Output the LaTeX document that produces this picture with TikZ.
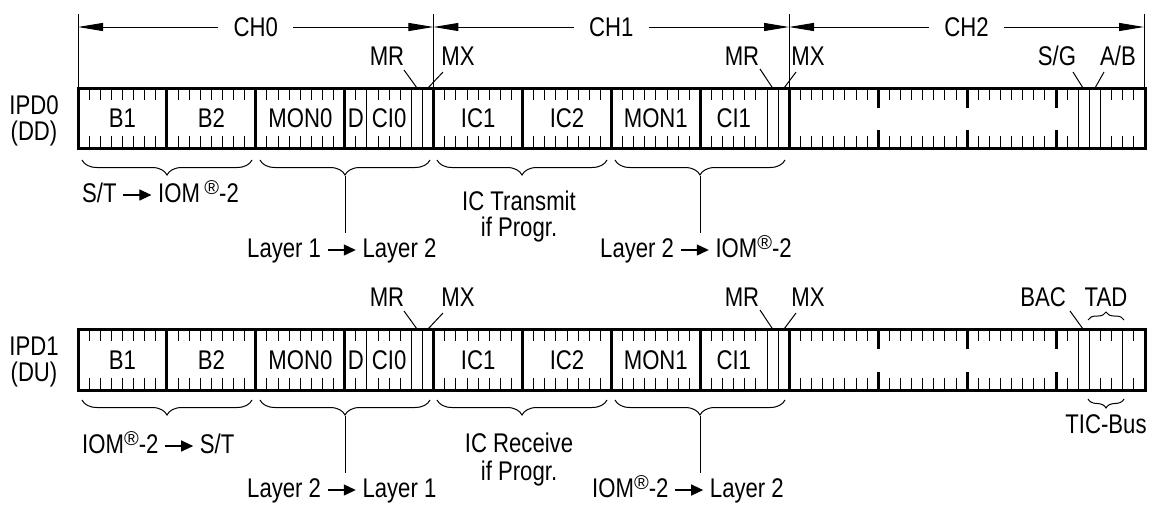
\documentclass[tikz,border=0pt]{standalone}
\usepackage{fontspec}
\setmainfont{Liberation Sans}[FakeStretch=0.82]
\newfontfamily\regfont{Liberation Sans}
\usetikzlibrary{arrows.meta,decorations.pathreplacing}
\newcommand\labfont{\fontsize{27}{29}\selectfont}
\newcommand\regm{\raisebox{7.5pt}{\regfont\fontsize{20}{20}\selectfont ®}}
\newcommand\tarr{\tikz[baseline=0pt]\draw[line width=1.2pt,-{Triangle[length=12pt,width=11pt]}] (0pt,7pt) -- (28pt,7pt);}
\def\bw{11.1146}
\def\xo{78}
\newcommand\ipdframe[3]{%
  \foreach \b in {1,...,95} {
    \draw[tk] ({\xo+\b*\bw},#1) -- ++(0,12);
    \draw[tk] ({\xo+\b*\bw},#2) -- ++(0,-12);
  }
  \foreach \b in {#3} \draw[tk] ({\xo+\b*\bw},#1) -- ({\xo+\b*\bw},#2);
  \foreach \b in {72,80,88} {
    \draw[thk] ({\xo+\b*\bw},#1) -- ++(0,20);
    \draw[thk] ({\xo+\b*\bw},#2) -- ++(0,-18);
  }
  \foreach \b in {8,16,24,32,40,48,56,64} \draw[thk] ({\xo+\b*\bw},#1) -- ({\xo+\b*\bw},#2);
  \draw[thk] (\xo,#1) rectangle (1145,#2);
}
\begin{document}
\begin{tikzpicture}[x=1pt,y=-1pt,
  every node/.style={inner sep=0pt,font=\labfont},
  tk/.style={line width=1pt},
  thk/.style={line width=3pt},
  ptr/.style={line width=1pt},
  dim/.style={line width=1pt,-{Triangle[length=25pt,width=8pt]}},
  brc/.style={line width=1pt,decorate,decoration={brace,amplitude=15pt,mirror}},
  sbrc/.style={line width=1pt,decorate,decoration={brace,amplitude=8pt}},
  sbrcm/.style={line width=1pt,decorate,decoration={brace,amplitude=9pt,mirror}},
  chl/.style={inner xsep=15pt,fill=white}]
\useasboundingbox[fill=white] (0,0) rectangle (1151,504);

% ---------- channel dimensions ----------
\coordinate (e0t) at (78,14);    \coordinate (e0b) at (78,88);
\coordinate (e1t) at (433.4,14); \coordinate (e1b) at (433.4,88);
\coordinate (e2t) at (789,14);   \coordinate (e2b) at (789,88);
\coordinate (e3t) at (1144,14);  \coordinate (e3b) at (1144,88);
\foreach \i in {0,1,2,3} \draw[tk] (e\i t) -- (e\i b);
\coordinate (a0) at (78,27);   \coordinate (a1) at (433.4,27);
\coordinate (a2) at (789,27);  \coordinate (a3) at (1144,27);
\node[chl] (ch0) at (255.7,27) {CH0};
\node[chl] (ch1) at (611.2,27) {CH1};
\node[chl] (ch2) at (966.5,27) {CH2};
\draw[dim] (ch0.west) -- (a0);  \draw[dim] (ch0.east) -- (a1);
\draw[dim] (ch1.west) -- (a1);  \draw[dim] (ch1.east) -- (a2);
\draw[dim] (ch2.west) -- (a2);  \draw[dim] (ch2.east) -- (a3);

% ---------- frames ----------
\ipdframe{88}{148}{26,30,31,62,63,90,91,92}
\ipdframe{329}{390}{26,30,31,62,63,90,91,94}

% ---------- row labels ----------
\node[anchor=base] (ipd0) at (34,114) {IPD0};
\node[anchor=base] (dd) at (34,140) {(DD)};
\node[anchor=base] (ipd1) at (34,355.5) {IPD1};
\node[anchor=base] (du) at (34,381.5) {(DU)};

\foreach \y/\r in {127.7/a,369/b} {
  \node[anchor=base] (b1\r) at (122.5,\y) {B1};
  \node[anchor=base] (b2\r) at (211.5,\y) {B2};
  \node[anchor=base] (mon0\r) at (300.4,\y) {MON0};
  \node[anchor=base] (d\r) at (355.9,\y) {D};
  \node[anchor=base] (ci0\r) at (389.2,\y) {CI0};
  \node[anchor=base] (ic1\r) at (478.1,\y) {IC1};
  \node[anchor=base] (ic2\r) at (567,\y) {IC2};
  \node[anchor=base] (mon1\r) at (655.8,\y) {MON1};
  \node[anchor=base] (ci1\r) at (733.8,\y) {CI1};
}

% ---------- MR / MX pointers ----------
\foreach \yb/\yo/\r in {65/0/a,306.5/241/b} {
  \node[anchor=base] (mr0\r) at (387,\yb) {MR};
  \node[anchor=base] (mx0\r) at (458,\yb) {MX};
  \node[anchor=base] (mr1\r) at (742,\yb) {MR};
  \node[anchor=base] (mx1\r) at (808,\yb) {MX};
  \coordinate (pmr0s\r) at (404,70+\yo);  \coordinate (pmr0e\r) at (417,88+\yo);
  \coordinate (pmx0s\r) at (443,72+\yo);  \coordinate (pmx0e\r) at (428,88+\yo);
  \coordinate (pmr1s\r) at (760,69+\yo);  \coordinate (pmr1e\r) at (772.6,88+\yo);
  \coordinate (pmx1s\r) at (796,72+\yo);  \coordinate (pmx1e\r) at (784,88+\yo);
  \draw[ptr] (pmr0s\r) -- (pmr0e\r);
  \draw[ptr] (pmx0s\r) -- (pmx0e\r);
  \draw[ptr] (pmr1s\r) -- (pmr1e\r);
  \draw[ptr] (pmx1s\r) -- (pmx1e\r);
}
\node[anchor=base] (sg) at (1057,65) {S/G};
\node[anchor=base] (ab) at (1118,65) {A/B};
\coordinate (psgs) at (1073,72); \coordinate (psge) at (1083,88);
\coordinate (pabs) at (1104,72); \coordinate (pabe) at (1095,88);
\draw[ptr] (psgs) -- (psge);
\draw[ptr] (pabs) -- (pabe);

\node[anchor=base] (bac) at (1043,306.5) {BAC};
\node[anchor=base] (tad) at (1106,306.5) {TAD};
\coordinate (pbacs) at (1070,311); \coordinate (pbace) at (1083,329);
\draw[ptr] (pbacs) -- (pbace);
\coordinate (tadl) at (1088,320); \coordinate (tadr) at (1124,320);
\draw[sbrc] (tadl) -- (tadr);
\coordinate (ticl) at (1088,399); \coordinate (ticr) at (1124,399);
\draw[sbrcm] (ticl) -- (ticr);
\node[anchor=base] (tic) at (1106,433) {TIC-Bus};

% ---------- braces ----------
\foreach \y/\r in {160/a,400/b} {
  \coordinate (br1l\r) at (82,\y);  \coordinate (br1r\r) at (252,\y);
  \coordinate (br2l\r) at (260,\y); \coordinate (br2r\r) at (430,\y);
  \coordinate (br3l\r) at (437,\y); \coordinate (br3r\r) at (607,\y);
  \coordinate (br4l\r) at (615,\y); \coordinate (br4r\r) at (785,\y);
  \draw[brc] (br1l\r) -- (br1r\r);
  \draw[brc] (br2l\r) -- (br2r\r);
  \draw[brc] (br3l\r) -- (br3r\r);
  \draw[brc] (br4l\r) -- (br4r\r);
}
\coordinate (t2a) at (345,176); \coordinate (t2ae) at (345,233);
\coordinate (t4a) at (700,176); \coordinate (t4ae) at (700,233);
\coordinate (t2b) at (345,416); \coordinate (t2be) at (345,473);
\coordinate (t4b) at (700,416); \coordinate (t4be) at (700,473);
\draw[tk] (t2a) -- (t2ae);
\draw[tk] (t4a) -- (t4ae);
\draw[tk] (t2b) -- (t2be);
\draw[tk] (t4b) -- (t4be);

% ---------- descriptive labels ----------
\node[anchor=base west] (st1) at (82,202) {S/T \tarr\ IOM\,\regm-2};
\node[anchor=base west] (l12) at (247,257) {Layer 1 \tarr\ Layer 2};
\node[anchor=base] (ict) at (519,210.5) {IC Transmit};
\node[anchor=base] (ifp1) at (519,236.5) {if Progr.};
\node[anchor=base west] (l2i) at (600,257) {Layer 2 \tarr\ IOM\regm-2};

\node[anchor=base west] (is2) at (82,453) {IOM\regm-2 \tarr\ S/T};
\node[anchor=base west] (l21) at (247,497) {Layer 2 \tarr\ Layer 1};
\node[anchor=base] (icr) at (519,452) {IC Receive};
\node[anchor=base] (ifp2) at (519,480) {if Progr.};
\node[anchor=base west] (il2) at (592,497) {IOM\regm-2 \tarr\ Layer 2};
\end{tikzpicture}
\end{document}
